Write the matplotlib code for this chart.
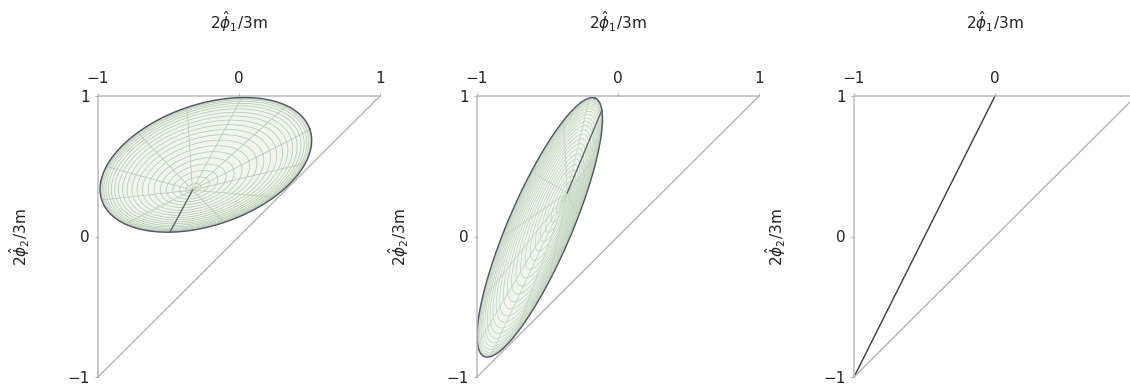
import numpy as np
import matplotlib.pyplot as plt

# values (data units, both axes -1..1)
tick_vals = [-1, 0, 1]
tri_x = [-1, -1, 1, -1]
tri_y = [-1, 1, 1, -1]

# projected surfaces in panels 1 and 2: outline ellipse + the point where the mesh lines meet
ell_center = [(-0.235, 0.51), (-0.555, 0.065)]
ell_semi = [(0.78, 0.43), (1.0, 0.225)]
ell_angle = [19.0, 66.8]
ell_pole = [(-0.33, 0.33), (-0.36, 0.31)]
ell_seam_end = [(-0.49, 0.03), (-0.14, 0.85)]
ell_rings = [22, 26]
ell_spokes = [12, 12]

# panel 3: degenerate case, just a segment
seg_x = [-1, 0]
seg_y = [-1, 1]

xlabel = r'$2\hat{\phi}_1/3\mathrm{m}$'
ylabel = r'$2\hat{\phi}_2/3\mathrm{m}$'

W, H = 1130, 385
panel_left = [98, 477, 854]   # px of left spine
ax_top, ax_w, ax_h = 96, 282, 281

TRI_C = '#b3b3b3'
FILL_C = '#f0f6ee'
MESH_C = ['#b6c9b2', '#c3d3bf']
EDGE_C = '#4f5568'
TXT_C = '#222222'


def surface_mesh(center, semi, angle, pole, seam_end, n_rings, n_spokes):
    """Rings shrinking from the outline ellipse onto the pole, plus straight spokes."""
    t = np.radians(angle)
    R = np.array([[np.cos(t), -np.sin(t)], [np.sin(t), np.cos(t)]])
    S = R @ np.diag(semi)
    c = np.array(center)[:, None]
    p = np.array(pole)[:, None]

    # outline parameter of the seam end point
    w = np.linalg.solve(S, np.array(seam_end) - c[:, 0])
    psi0 = np.arctan2(w[1], w[0])

    def edge(psi):
        return S @ np.vstack([np.cos(psi), np.sin(psi)]) + c

    psi = np.linspace(0, 2 * np.pi, 400)
    outline = edge(psi)
    lines = []
    for r in np.linspace(0, 1, n_rings + 1)[1:-1]:
        g = np.sin(0.5 * np.pi * r)
        lines.append(p + (outline - p) * g)
    for ps in psi0 + np.linspace(0, 2 * np.pi, n_spokes + 1)[:-1]:
        e = edge(np.array([ps]))
        lines.append(np.hstack([p, e]))
    seam = np.hstack([p, edge(np.array([psi0]))])
    return lines, seam, outline


fig = plt.figure(figsize=(W / 100, H / 100), dpi=100)

for i, L in enumerate(panel_left):
    ax = fig.add_axes([L / W, (H - ax_top - ax_h) / H, ax_w / W, ax_h / H])
    ax.set_xlim(-1, 1)
    ax.set_ylim(-1, 1)
    for s in ax.spines.values():
        s.set_visible(False)
    ax.xaxis.tick_top()
    ax.set_xticks(tick_vals)
    ax.set_yticks(tick_vals)
    ax.tick_params(length=2, color=TRI_C, labelsize=11, labelcolor=TXT_C)
    ax.tick_params(axis='x', pad=5)
    ax.tick_params(axis='y', pad=4)

    if i < 2:
        lines, seam, outline = surface_mesh(ell_center[i], ell_semi[i], ell_angle[i],
                                            ell_pole[i], ell_seam_end[i],
                                            ell_rings[i], ell_spokes[i])
        ax.fill(outline[0], outline[1], color=FILL_C, lw=0, zorder=1)
        for xy in lines:
            ax.plot(xy[0], xy[1], color=MESH_C[i], lw=0.55, zorder=2)
        ax.plot(outline[0], outline[1], color=EDGE_C, lw=1.0, zorder=4)
        ax.plot(seam[0], seam[1], color='#5a5f6a', lw=0.9, zorder=3)
    else:
        ax.plot(seg_x, seg_y, color='#3a3a3a', lw=1.0, zorder=3)

    ax.plot(tri_x, tri_y, color=TRI_C, lw=1.0, clip_on=False, zorder=5)

    fig.text((L + ax_w / 2) / W, 1 - 22 / H, xlabel, ha='center', va='center',
             fontsize=11, color=TXT_C)
    fig.text((L - 78) / W, 1 - 237 / H, ylabel, ha='center', va='center',
             rotation=90, fontsize=11, color=TXT_C)

fig.savefig('out.png', dpi=100)
